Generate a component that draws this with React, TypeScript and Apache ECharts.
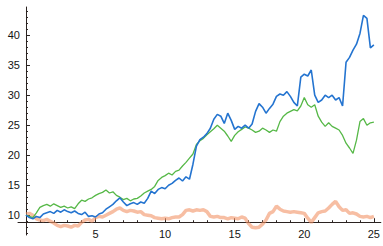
import React, { useEffect, useRef } from "react";
import * as echarts from "echarts";

const STEP = 0.25;

const blueValues = [
  10.0, 9.6, 9.4, 9.8, 9.6, 10.2, 10.4, 10.6, 10.3, 10.8, 10.5, 10.9, 10.6, 10.4, 10.7, 10.3, 10.1, 10.5, 9.8, 9.9,
  9.7, 10.2, 10.4, 11.0, 11.4, 11.8, 12.4, 12.9, 12.2, 11.6, 11.9, 12.1, 11.8, 12.2, 12.0, 12.8, 14.0, 13.6, 14.3, 14.6,
  14.4, 15.0, 15.3, 15.8, 16.2, 15.7, 16.4, 16.0, 18.5, 21.5, 22.6, 23.0, 23.6, 24.5, 26.0, 26.8, 26.5, 25.3, 27.0, 25.8,
  24.3, 24.8, 24.5, 25.0, 24.5, 25.2, 27.3, 28.6, 28.0, 27.0, 27.8, 28.5, 29.8, 30.2, 30.0, 30.6, 29.8, 28.8, 28.2, 33.0,
  33.5, 33.2, 34.2, 30.0, 28.8, 29.2, 30.0, 29.6, 30.0, 29.2, 29.6, 28.2, 35.5, 36.3, 37.5, 38.5, 40.3, 43.3, 42.8, 37.9,
  38.4,
];

const greenValues = [
  10.0, 9.8, 9.6, 10.4, 11.3, 11.6, 11.8, 11.5, 11.9, 11.6, 11.3, 11.5, 11.2, 11.4, 11.1, 11.9, 12.5, 12.3, 12.7, 12.9,
  13.3, 13.6, 13.8, 14.2, 13.7, 13.9, 13.3, 13.0, 12.6, 12.8, 12.4, 12.7, 12.8, 13.2, 13.7, 14.0, 14.3, 14.8, 15.8, 16.3,
  16.6, 17.0, 16.7, 17.3, 17.5, 18.2, 18.8, 19.5, 20.2, 21.8, 22.4, 22.8, 23.4, 23.9, 24.4, 25.0, 24.5, 24.0, 23.2, 22.3,
  23.3, 23.9, 24.3, 24.7, 24.5, 24.2, 23.8, 24.0, 24.5, 24.2, 23.8, 24.2, 24.0, 25.6, 26.5, 27.0, 27.3, 27.6, 27.4, 28.2,
  29.6, 28.4, 28.0, 28.4, 26.5, 25.5, 24.8, 25.4, 24.8, 24.5, 24.2, 23.3, 22.0, 21.2, 20.3, 22.5, 25.6, 26.1, 25.0, 25.4,
  25.5,
];

const orangeValues = [
  10.2, 10.3, 10.0, 9.4, 9.2, 9.1, 9.3, 9.0, 8.7, 8.3, 8.1, 8.3, 8.2, 8.0, 8.3, 8.2, 8.8, 9.2, 9.3, 9.0,
  9.6, 9.8, 9.7, 10.0, 10.3, 10.6, 11.0, 11.2, 10.8, 10.6, 10.8, 10.7, 10.5, 10.6, 10.1, 10.0, 9.9, 9.6, 9.5, 9.4,
  9.5, 9.4, 9.6, 9.7, 9.7, 10.1, 10.8, 10.9, 10.7, 10.9, 10.8, 10.9, 10.6, 9.8, 9.7, 9.8, 9.6, 9.6, 9.4, 9.6,
  9.5, 9.4, 9.7, 9.5, 8.6, 8.0, 7.9, 8.0, 8.5, 9.2, 10.3, 10.6, 11.5, 11.0, 10.7, 10.6, 10.5, 10.6, 10.5, 10.4,
  10.3, 9.5, 8.8, 9.6, 10.4, 10.6, 10.7, 11.2, 11.8, 12.3, 11.4, 10.8, 10.9, 10.3, 10.4, 10.2, 9.8, 9.7, 9.8, 9.6,
  9.8,
];

const xTickLabels = [5, 10, 15, 20, 25];
const yTickLabels = [10, 15, 20, 25, 30, 35, 40];
const xMinorTicks = [1, 2, 3, 4, 6, 7, 8, 9, 11, 12, 13, 14, 16, 17, 18, 19, 21, 22, 23, 24];
const yMinorTicks = [7, 8, 9, 11, 12, 13, 14, 16, 17, 18, 19, 21, 22, 23, 24, 26, 27, 28, 29, 31, 32, 33, 34, 36, 37, 38, 39, 41, 42, 43, 44];

const X_MIN = -0.57;
const X_MAX = 25.5;
const Y_MIN = 6.7;
const Y_MAX = 44.7;
const X_AXIS_AT = 8.83;

const W = 383;
const H = 246;
const GRID = { left: 18, right: 0, top: 7, bottom: 11 };

const toPairs = (vals: number[]) => vals.map((v, i) => [i * STEP, v]);

export default function App() {
  const ref = useRef<HTMLDivElement>(null);
  useEffect(() => {
    if (!ref.current) return;
    const chart = echarts.init(ref.current, null, { renderer: "svg" });
    const gw = W - GRID.left - GRID.right;
    const gh = H - GRID.top - GRID.bottom;
    const xOff = -((X_AXIS_AT - Y_MIN) / (Y_MAX - Y_MIN)) * gh;
    const yOff = -((0 - X_MIN) / (X_MAX - X_MIN)) * gw;
    const axisColor = "#2a2220";
    const font = { fontFamily: "Liberation Sans, Arial, sans-serif", fontSize: 11, color: "#141414" };
    chart.setOption({
      animation: false,
      backgroundColor: "#ffffff",
      grid: GRID,
      xAxis: [
        {
          type: "value",
          min: X_MIN,
          max: X_MAX,
          offset: xOff,
          axisLine: { show: true, onZero: false, lineStyle: { color: axisColor, width: 1 } },
          axisTick: { show: true, inside: true, length: 4, customValues: xTickLabels, lineStyle: { color: axisColor } },
          axisLabel: { show: true, customValues: xTickLabels, margin: 6, ...font },
          splitLine: { show: false },
        },
        {
          type: "value",
          position: "bottom",
          min: X_MIN,
          max: X_MAX,
          offset: xOff,
          axisLine: { show: false },
          axisTick: { show: true, inside: true, length: 2, customValues: xMinorTicks, lineStyle: { color: axisColor } },
          axisLabel: { show: false },
          splitLine: { show: false },
        },
      ],
      yAxis: [
        {
          type: "value",
          min: Y_MIN,
          max: Y_MAX,
          offset: yOff,
          axisLine: { show: true, onZero: false, lineStyle: { color: axisColor, width: 1 } },
          axisTick: { show: true, inside: true, length: 4, customValues: yTickLabels, lineStyle: { color: axisColor } },
          axisLabel: { show: true, customValues: yTickLabels, margin: 6, ...font },
          splitLine: { show: false },
        },
        {
          type: "value",
          position: "left",
          min: Y_MIN,
          max: Y_MAX,
          offset: yOff,
          axisLine: { show: false },
          axisTick: { show: true, inside: true, length: 2, customValues: yMinorTicks, lineStyle: { color: axisColor } },
          axisLabel: { show: false },
          splitLine: { show: false },
        },
      ],
      series: [
        {
          type: "line",
          data: toPairs(orangeValues),
          showSymbol: false,
          lineStyle: { color: "#f29266", width: 3.5, opacity: 0.6 },
          z: 1,
        },
        {
          type: "line",
          data: toPairs(greenValues),
          showSymbol: false,
          lineStyle: { color: "#56b847", width: 1.3 },
          z: 2,
        },
        {
          type: "line",
          data: toPairs(blueValues),
          showSymbol: false,
          lineStyle: { color: "#2474d0", width: 1.6 },
          z: 3,
        },
      ],
    });
    return () => chart.dispose();
  }, []);
  return <div ref={ref} style={{ position: "absolute", left: 0, top: 0, width: W, height: H }} />;
}
